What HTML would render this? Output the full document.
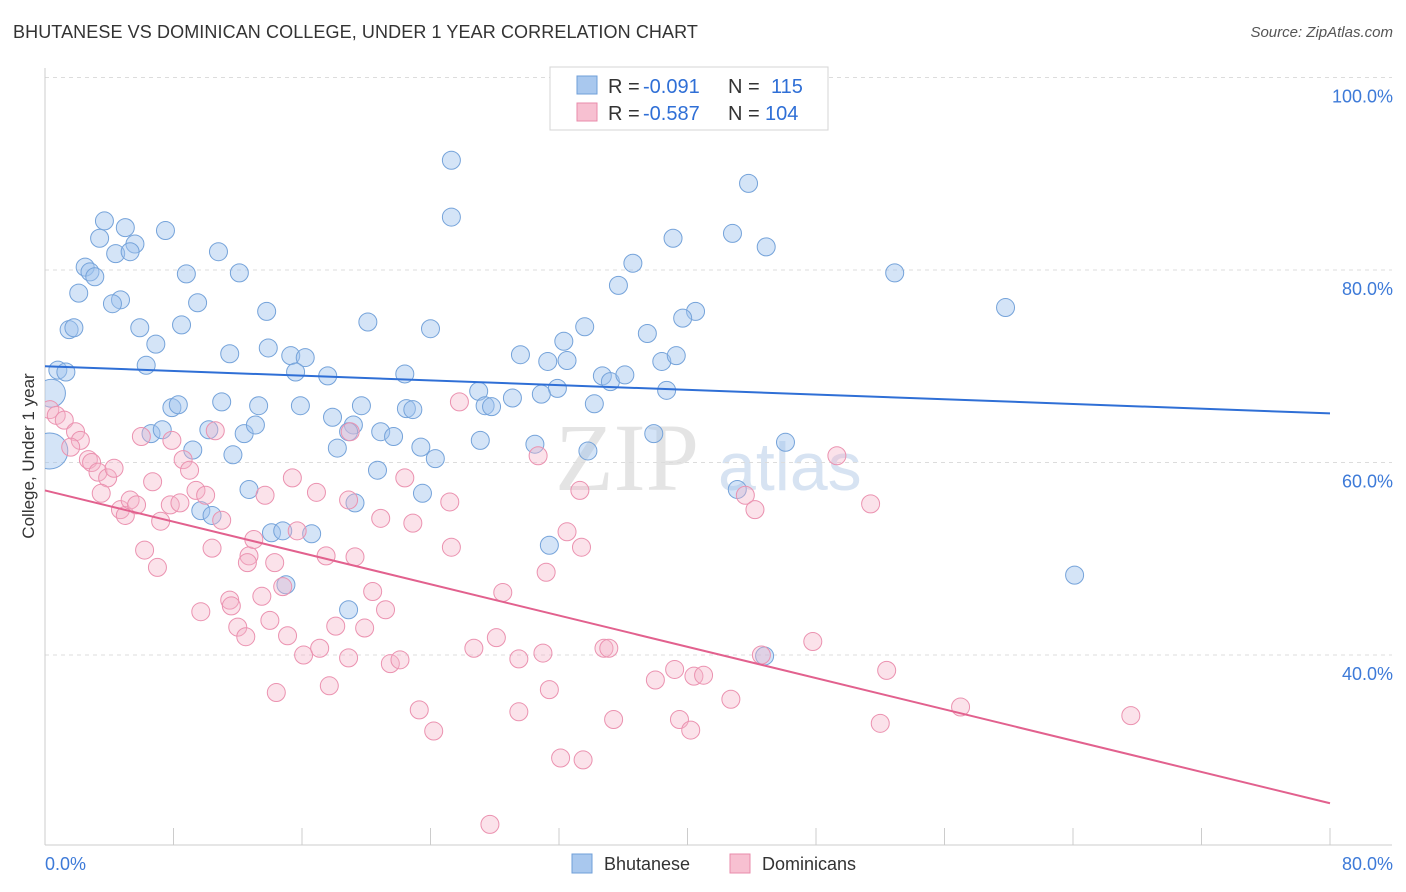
<!DOCTYPE html>
<html><head><meta charset="utf-8">
<style>
body{margin:0;background:#fff;font-family:"Liberation Sans",sans-serif;}
#wrap{position:relative;width:1406px;height:892px;overflow:hidden;}
.title{position:absolute;left:13px;top:22px;font-size:18px;color:#333;letter-spacing:0.1px;}
.src{position:absolute;right:13px;top:24px;font-size:15px;color:#555;font-style:italic;}
</style></head><body>
<div id="wrap">
<div class="title">BHUTANESE VS DOMINICAN COLLEGE, UNDER 1 YEAR CORRELATION CHART</div>
<div class="src">Source: ZipAtlas.com</div>
<svg id="svg" width="1406" height="892" style="position:absolute;left:0;top:0"></svg>
</div>
<script>
const blueX=[25.3,25.3,43.8,3.7,5.0,3.4,5.6,7.5,4.4,5.3,10.8,2.5,2.8,3.1,8.8,12.1,2.1,4.7,4.2,9.5,13.8,1.5,1.8,5.9,8.5,20.1,24.0,6.9,11.5,13.9,15.3,16.2,15.6,17.6,6.3,0.8,1.3,22.4,29.6,31.3,32.5,32.3,33.6,35.7,36.6,39.1,42.8,44.9,52.9,59.8,40.5,39.7,37.5,38.4,39.3,34.7,35.2,36.1,38.7,31.9,30.9,29.1,27.0,27.4,27.8,22.5,22.9,19.7,15.9,13.3,11.0,7.9,8.3,17.9,19.2,18.9,20.9,21.7,18.2,23.4,24.3,11.7,9.2,10.2,12.4,13.1,6.6,7.3,20.7,23.5,19.3,12.7,9.7,10.4,14.1,14.8,16.6,15.0,18.9,30.5,27.1,33.8,34.2,31.4,37.9,46.1,43.1,44.8,64.1,0.3,0.4];
const blueY=[91.4,85.5,89.0,85.1,84.4,83.3,82.7,84.1,81.7,81.9,81.9,80.3,79.8,79.3,79.6,79.7,77.6,76.9,76.5,76.6,75.7,73.8,74.0,74.0,74.3,74.6,73.9,72.3,71.3,71.9,71.1,70.9,69.4,69.0,70.1,69.6,69.4,69.2,71.2,70.5,70.6,72.6,74.1,78.4,80.7,83.3,83.8,82.4,79.7,76.1,75.7,75.0,73.4,70.5,71.1,69.0,68.4,69.1,67.5,67.7,67.1,66.7,67.4,65.9,65.8,65.6,65.5,65.9,65.9,65.9,66.3,65.7,66.0,64.7,63.9,63.2,63.2,62.7,61.5,61.6,60.4,60.8,61.3,63.4,63.0,63.9,63.0,63.4,59.2,56.8,55.8,57.2,55.0,54.5,52.7,52.9,52.6,47.3,44.7,61.9,62.3,61.2,66.1,51.4,63.0,62.1,57.2,39.9,48.3,61.2,67.2];
const blueSize=[9,9,9,9,9,9,9,9,9,9,9,9,9,9,9,9,9,9,9,9,9,9,9,9,9,9,9,9,9,9,9,9,9,9,9,9,9,9,9,9,9,9,9,9,9,9,9,9,9,9,9,9,9,9,9,9,9,9,9,9,9,9,9,9,9,9,9,9,9,9,9,9,9,9,9,9,9,9,9,9,9,9,9,9,9,9,9,9,9,9,9,9,9,9,9,9,9,9,9,9,9,9,9,9,9,9,9,9,9,18,14];
const pinkX=[0.3,0.7,1.2,1.9,2.2,1.6,2.7,2.9,3.3,3.9,4.3,3.5,4.7,5.0,5.3,5.7,6.0,6.7,7.2,7.8,8.4,7.9,8.6,9.0,9.4,10.0,11.0,10.6,10.4,6.2,7.0,12.7,12.6,13.7,15.4,13.0,14.3,14.8,15.7,16.9,17.5,19.3,18.9,20.9,22.4,22.9,25.2,25.8,25.3,19.0,9.7,11.5,11.6,12.0,12.5,13.5,14.0,15.1,16.1,17.1,18.1,19.9,20.4,21.2,18.9,21.5,22.1,17.7,14.4,23.3,24.2,26.7,28.1,28.5,29.5,29.5,31.0,31.4,31.2,32.5,33.4,34.8,35.1,35.4,32.1,33.5,27.7,38.0,39.2,39.5,40.2,40.4,41.0,42.7,43.6,44.2,44.6,47.8,49.3,51.4,52.4,52.0,57.0,67.6,30.7,33.3];
const pinkY=[65.5,64.9,64.4,63.2,62.3,61.6,60.3,60.0,59.0,58.4,59.4,56.8,55.1,54.5,56.1,55.6,62.7,58.0,53.9,55.6,55.8,62.3,60.3,59.2,57.1,56.6,54.0,63.3,51.1,50.9,49.1,50.3,49.6,56.6,58.4,52.0,49.6,47.1,52.9,56.9,50.3,50.2,56.1,54.2,58.4,53.7,55.9,66.3,51.2,63.2,44.5,45.7,45.1,42.9,41.9,46.1,43.6,42.0,40.0,40.7,43.0,42.8,46.6,44.7,39.7,39.1,39.5,36.8,36.1,34.3,32.1,40.7,41.8,46.5,39.6,34.1,40.2,36.4,48.6,52.8,51.2,40.7,40.7,33.3,29.3,29.1,22.4,37.4,38.5,33.3,32.2,37.8,37.9,35.4,56.6,55.1,40.0,41.4,60.7,55.7,38.4,32.9,34.6,33.7,60.7,57.1];
const blueLine=[70.0,65.1];
const pinkLine=[57.1,24.6];
const yTicks=[100,80,60,40];
const yTickLabels=["100.0%","80.0%","60.0%","40.0%"];
const xTicks=[0,8,16,24,32,40,48,56,64,72,80];

const NS="http://www.w3.org/2000/svg";
const svg=document.getElementById('svg');
const X=v=>45+v*1285/80;
const Y=v=>77.5+(100-v)*9.625;
function mk(t,a,p){const e=document.createElementNS(NS,t);for(const k in a)e.setAttribute(k,a[k]);(p||svg).appendChild(e);return e;}

const defs=mk('defs',{});
const cp=mk('clipPath',{id:'pc'},defs);
mk('rect',{x:45,y:60,width:1360,height:785},cp);

let wm=mk('text',{x:555,y:490,'font-size':96,'font-family':'Liberation Serif,serif',fill:'#e4e4e4'});wm.textContent='ZIP';


let wm2=mk('text',{x:718,y:490,'font-size':68,'font-family':'Liberation Sans,sans-serif',fill:'#d7e3f2'});wm2.textContent='atlas';



yTicks.forEach((t,i)=>{
  const g=mk('line',{x1:45,x2:1392,y1:Y(t),y2:Y(t),stroke:'#dcdcdc','stroke-dasharray':'4,4'});
  
  
  const l=mk('text',{x:1393,y:Y(t)+25,'text-anchor':'end','font-size':18,fill:'#3d7ad8'});
  l.textContent=yTickLabels[i];
  
  
});
let ax=mk('line',{x1:45,x2:1392,y1:845,y2:845,stroke:'#ccc'});


let ay=mk('line',{x1:45,x2:45,y1:68,y2:845,stroke:'#ccc'});


xTicks.forEach(t=>{
  const k=mk('line',{x1:X(t),x2:X(t),y1:828,y2:845,stroke:'#ccc'});
  
  
});
let xl0=mk('text',{x:45,y:870,'font-size':18,fill:'#3d7ad8'});xl0.textContent='0.0%';


let xl1=mk('text',{x:1393,y:870,'text-anchor':'end','font-size':18,fill:'#3d7ad8'});xl1.textContent='80.0%';


let yt=mk('text',{x:34,y:456,'text-anchor':'middle','font-size':17,fill:'#333',transform:'rotate(-90 34 456)'});yt.textContent='College, Under 1 year';



const pg=mk('g',{'clip-path':'url(#pc)'});
blueX.forEach((x,i)=>{
  const c=mk('circle',{cx:X(x),cy:Y(blueY[i]),r:blueSize[i],fill:'rgba(160,195,238,0.45)',stroke:'#75a3da','stroke-width':1},pg);
  
  
});
pinkX.forEach((x,i)=>{
  const c=mk('circle',{cx:X(x),cy:Y(pinkY[i]),r:9,fill:'rgba(245,180,200,0.38)',stroke:'#eb92b0','stroke-width':1},pg);
  
  
});
let bl=mk('line',{x1:X(0),y1:Y(blueLine[0]),x2:X(80),y2:Y(blueLine[1]),stroke:'#2f6fd6','stroke-width':2});


let pl=mk('line',{x1:X(0),y1:Y(pinkLine[0]),x2:X(80),y2:Y(pinkLine[1]),stroke:'#e2618e','stroke-width':2});



let lg=mk('rect',{x:550,y:67,width:278,height:63,fill:'#fff',stroke:'#d5d5d5'});


[[76,'#a9c8ee','#6f9fd8','-0.091','115',771],[103,'#f7c0d1','#e98bab','-0.587','104',765]].forEach(r=>{
  const s=mk('rect',{x:577,y:r[0],width:20,height:18,fill:r[1],stroke:r[2]});
  
  
  const a=mk('text',{x:608,y:r[0]+17,'font-size':20,fill:'#333'});a.textContent='R =';
  
  
  const b=mk('text',{x:643,y:r[0]+17,'font-size':20,fill:'#2f6fd6'});b.textContent=r[3];
  
  
  const c=mk('text',{x:728,y:r[0]+17,'font-size':20,fill:'#333'});c.textContent='N =';
  
  
  const d=mk('text',{x:r[5],y:r[0]+17,'font-size':20,fill:'#2f6fd6'});d.textContent=r[4];
  
  
});
[[572,'#a9c8ee','#6f9fd8','Bhutanese'],[730,'#f7c0d1','#e98bab','Dominicans']].forEach(r=>{
  const s=mk('rect',{x:r[0],y:854,width:20,height:19,fill:r[1],stroke:r[2]});
  
  
  const t=mk('text',{x:r[0]+32,y:870,'font-size':18,fill:'#333'});
  t.textContent=r[3];
  
  
});
</script>
</body></html>
